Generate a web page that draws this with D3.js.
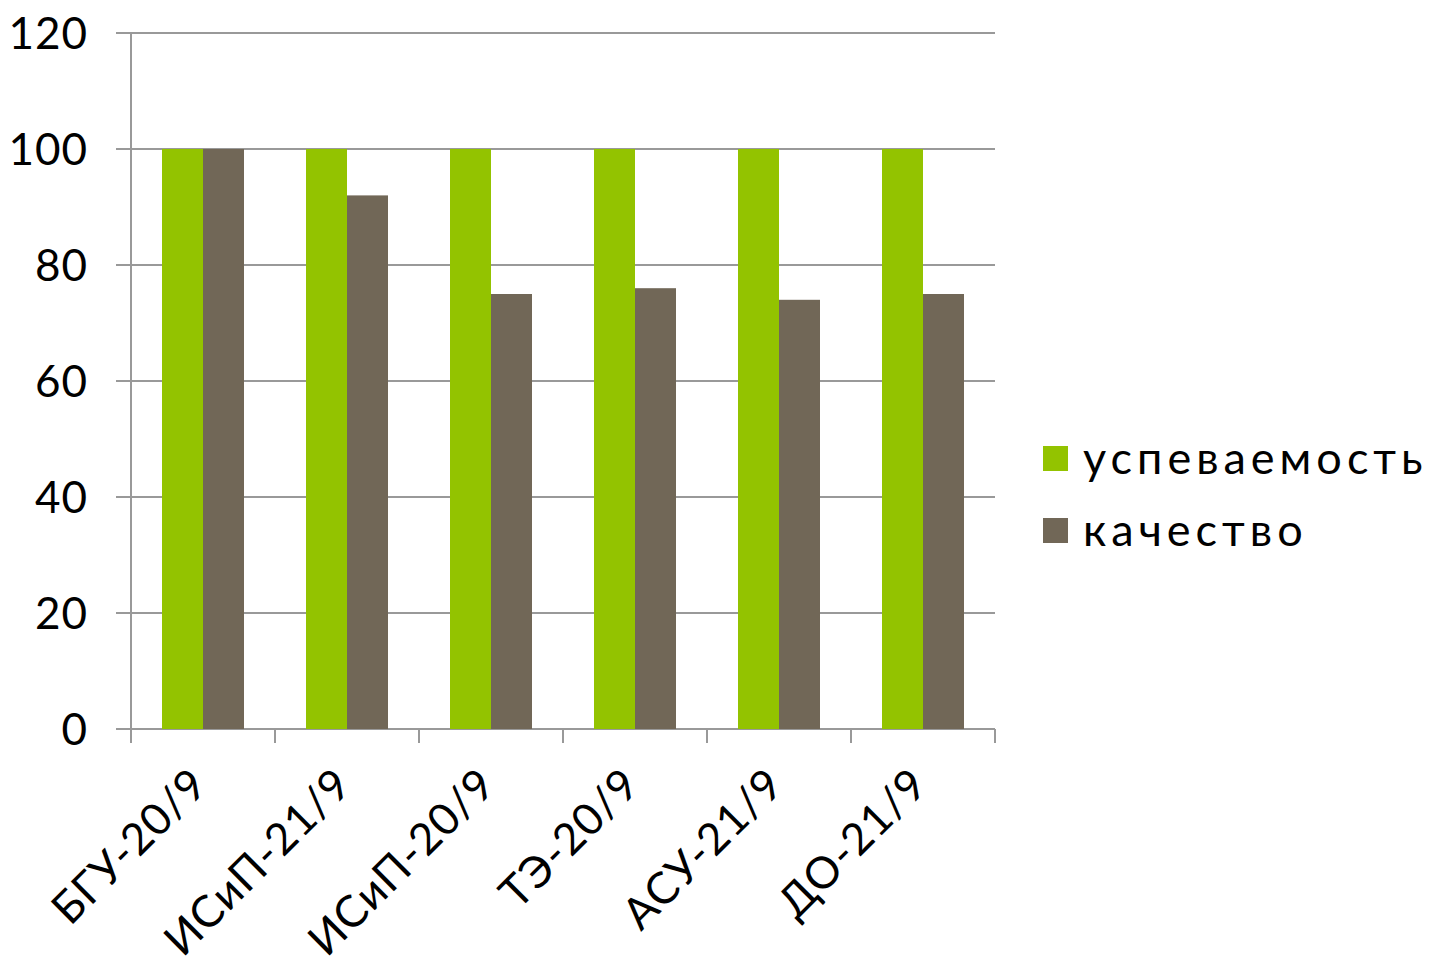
<!DOCTYPE html>
<html><head><meta charset="utf-8">
<script src="https://cdn.jsdelivr.net/npm/d3@7"></script>
<style>body{margin:0;background:#fff}svg{display:block}text{font-family:"Century Gothic",Lato,"Noto Sans",sans-serif;fill:#000}</style>
</head><body><svg id="c" width="1433" height="969"></svg>
<script>
const categories = ["БГУ-20/9","ИСиП-21/9","ИСиП-20/9","ТЭ-20/9","АСУ-21/9","ДО-21/9"];
const seriesNames = ["успеваемость","качество"];
const uspevaemost = [100,100,100,100,100,100];
const kachestvo = [100,92,75,76,74,75];
const yTicks = [0,20,40,60,80,100,120];
const colors = ["#93c300","#716757"];

(function(){
const svg = d3.select("#c");
const pL=131,pR=995,pT=33,pB=729;
const x = d3.scaleBand().domain(categories).range([pL,pR]).padding(0);
const x1 = d3.scaleBand().domain(seriesNames).range([31,113]).padding(0);
const y = d3.scaleLinear().domain([0,120]).range([pB,pT]);
const grid="#999";

svg.append("g").selectAll("line").data(yTicks).join("line")
  .attr("x1",116).attr("x2",pR).attr("y1",d=>y(d)).attr("y2",d=>y(d))
  .attr("stroke",grid).attr("stroke-width",2);
svg.append("line").attr("x1",pL).attr("x2",pL).attr("y1",pT).attr("y2",pB+14).attr("stroke",grid).attr("stroke-width",2);
const bounds = categories.map(c=>x(c)).concat([pR]);
svg.append("g").selectAll("line").data(bounds).join("line")
  .attr("x1",d=>d).attr("x2",d=>d).attr("y1",pB).attr("y2",pB+14)
  .attr("stroke",grid).attr("stroke-width",2);

const data = categories.map((c,i)=>({c, vals:[uspevaemost[i],kachestvo[i]]}));
const g = svg.append("g").selectAll("g").data(data).join("g");
g.selectAll("rect").data(d=>d.vals.map((v,j)=>({c:d.c,v,j}))).join("rect")
  .attr("x",d=>x(d.c)+x1(seriesNames[d.j])).attr("width",x1.bandwidth())
  .attr("y",d=>y(d.v)).attr("height",d=>y(0)-y(d.v))
  .attr("fill",d=>colors[d.j]);

svg.append("g").selectAll("text").data(yTicks).join("text")
  .attr("x",88).attr("y",d=>y(d)).attr("dy","0.36em").attr("text-anchor","end")
  .attr("font-size",44).attr("letter-spacing",1).text(d=>d);

svg.append("g").selectAll("text").data(categories).join("text")
  .attr("transform",d=>`translate(${x(d)+x.bandwidth()/2+7},${pB+58}) rotate(-45)`)
  .attr("text-anchor","end").attr("font-size",44).attr("letter-spacing",1).text(d=>d);

const lg = svg.append("g").selectAll("g").data(seriesNames).join("g")
  .attr("transform",(d,i)=>`translate(1043,${446+i*72})`);
lg.append("rect").attr("width",25).attr("height",25).attr("fill",(d,i)=>colors[i]);
lg.append("text").attr("x",40).attr("y",28).attr("font-size",45).attr("letter-spacing",5).text(d=>d);
})();
</script></body></html>
